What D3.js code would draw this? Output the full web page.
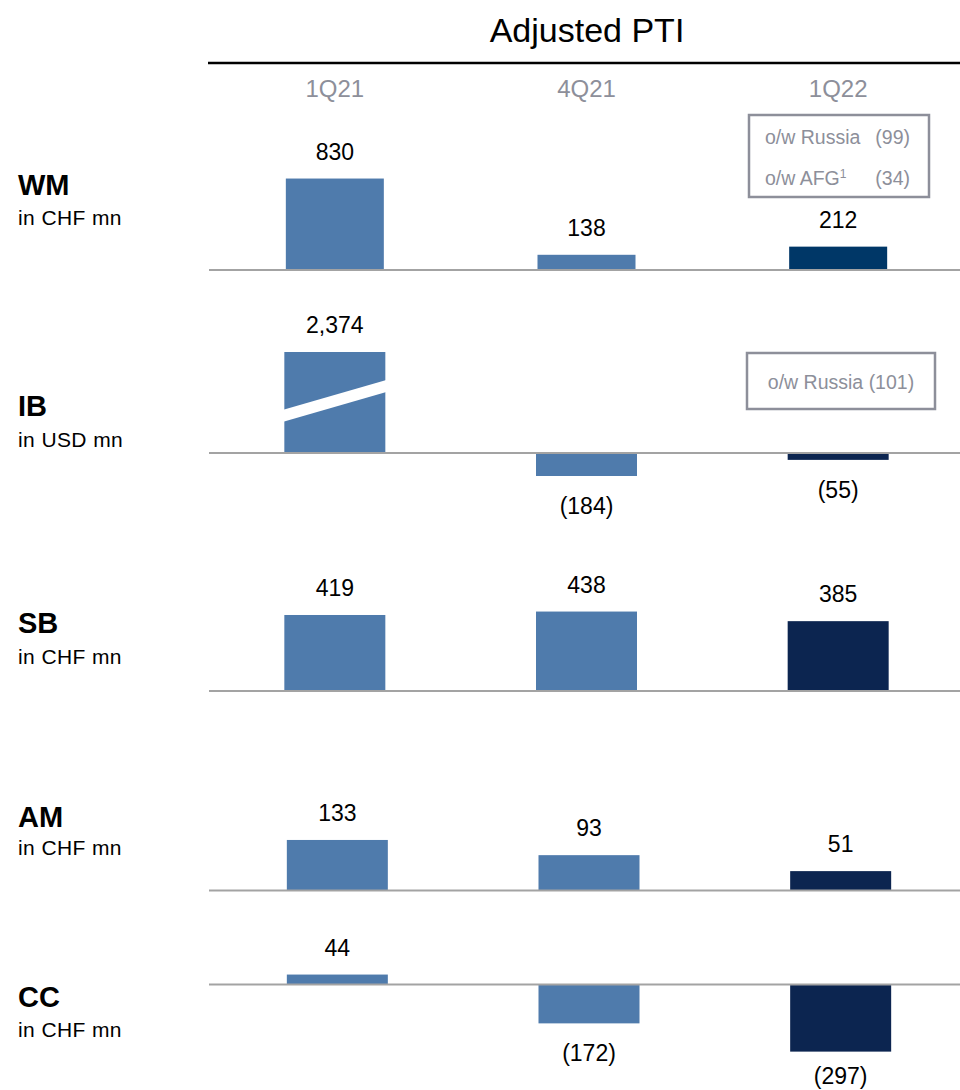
<!DOCTYPE html>
<html><head><meta charset="utf-8">
<script src="https://cdn.jsdelivr.net/npm/d3@7"></script>
<style>
body{margin:0;background:#fff;}
svg{display:block;font-family:"Liberation Sans",Arial,Helvetica,sans-serif;}
</style></head>
<body>
<script>
// ---- data ----
const title = "Adjusted PTI";
const periods = ["1Q21", "4Q21", "1Q22"];
const segments = ["WM", "IB", "SB", "AM", "CC"];
const units = ["in CHF mn", "in USD mn", "in CHF mn", "in CHF mn", "in CHF mn"];
const wmValues = [830, 138, 212];
const ibValues = [2374, -184, -55];
const sbValues = [419, 438, 385];
const amValues = [133, 93, 51];
const ccValues = [44, -172, -297];
const segmentValues = [wmValues, ibValues, sbValues, amValues, ccValues];
const wmNotes = [["o/w Russia", "(99)"], ["o/w AFG", "(34)"]];
const ibNotes = [["o/w Russia (101)", ""]];
const ibBreakValue = 808; // displayed height of broken bar

// ---- layout ----
const W = 960, H = 1090;
const panels = [
  {baseline: 270,   k: 0.1102, dx: 0,   bw: 98,  dark: "#003767", lab: 75,  unit: 45},
  {baseline: 453,   k: 0.125,  dx: 0,   bw: 101, dark: "#0c2550", lab: 37,  unit: 6},
  {baseline: 691,   k: 0.1814, dx: 0,   bw: 101, dark: "#0c2550", lab: 58,  unit: 27},
  {baseline: 890.5, k: 0.380,  dx: 2.5, bw: 101, dark: "#0c2550", lab: 64,  unit: 35.5},
  {baseline: 984.5, k: 0.226,  dx: 2.5, bw: 101, dark: "#0c2550", lab: -22, unit: -52.5}
];
const light = "#4f7bac";
const grey = "#8d8f9a";

const svg = d3.select("body").append("svg").attr("width", W).attr("height", H);

const x = d3.scaleBand().domain(periods).range([209, 964]).paddingInner(0.6).paddingOuter(0.3);

// title
svg.append("text").attr("x", 587).attr("y", 42).attr("text-anchor", "middle")
  .attr("font-size", 34).attr("fill", "#000").text(title);
svg.append("line").attr("x1", 208).attr("x2", 960).attr("y1", 63).attr("y2", 63)
  .attr("stroke", "#000").attr("stroke-width", 2.5);

// period headers
svg.selectAll("text.period").data(periods).join("text").attr("class", "period")
  .attr("x", d => x(d) + x.bandwidth() / 2).attr("y", 97).attr("text-anchor", "middle")
  .attr("font-size", 24).attr("fill", grey).text(d => d);

const fmt = v => v < 0 ? "(" + d3.format(",")(-v) + ")" : d3.format(",")(v);

segments.forEach((seg, si) => {
  const p = panels[si];
  const vals = segmentValues[si];
  const y = d3.scaleLinear().domain([0, 1000]).range([p.baseline, p.baseline - 1000 * p.k]);
  const g = svg.append("g");
  const disp = v => (si === 1 && v > ibBreakValue) ? ibBreakValue : v;

  // left labels
  g.append("text").attr("x", 18).attr("y", y(0) - p.lab)
    .attr("font-size", 29).attr("font-weight", "bold").attr("fill", "#000").text(seg);
  g.append("text").attr("x", 18).attr("y", y(0) - p.unit)
    .attr("font-size", 21).attr("letter-spacing", 0.4).attr("fill", "#000").text(units[si]);

  // bars
  g.selectAll("rect").data(vals).join("rect")
    .attr("x", (d, i) => x(periods[i]) + p.dx + (x.bandwidth() - p.bw) / 2)
    .attr("width", p.bw)
    .attr("y", d => Math.min(y(disp(d)), y(0)))
    .attr("height", d => Math.abs(y(disp(d)) - y(0)))
    .attr("fill", (d, i) => i === 2 ? p.dark : light);

  // broken bar stripe
  if (si === 1) {
    const bx = x(periods[0]) + p.dx + (x.bandwidth() - p.bw) / 2;
    const yl = y(disp(vals[0]) * 0.43), yr = y(disp(vals[0]) * 0.72);
    const t = 12;
    g.append("polygon")
      .attr("points", [[bx - 1, yl + 0.3], [bx + p.bw + 1, yr - 0.3], [bx + p.bw + 1, yr - 0.3 + t], [bx - 1, yl + 0.3 + t]].map(q => q.join(",")).join(" "))
      .attr("fill", "#fff");
  }

  // baseline
  g.append("line").attr("x1", 209).attr("x2", 960).attr("y1", y(0)).attr("y2", y(0))
    .attr("stroke", "#a3a3a3").attr("stroke-width", 2);

  // value labels
  g.selectAll("text.val").data(vals).join("text").attr("class", "val")
    .attr("x", (d, i) => x(periods[i]) + p.dx + x.bandwidth() / 2)
    .attr("y", d => d >= 0 ? y(disp(d)) - 19 : Math.min(y(d) + 38, H - 6))
    .attr("text-anchor", "middle").attr("font-size", 23).attr("fill", "#000")
    .text(fmt);
});

// annotation boxes
const wmBox = svg.append("g");
wmBox.append("rect").attr("x", 749).attr("y", 115).attr("width", 180).attr("height", 82)
  .attr("fill", "none").attr("stroke", grey).attr("stroke-width", 2.5);
wmNotes.forEach((n, i) => {
  const t = wmBox.append("text").attr("x", 765).attr("y", 144 + i * 41).attr("font-size", 19.5).attr("fill", grey);
  t.append("tspan").text(n[0]);
  if (i === 1) t.append("tspan").attr("font-size", 12).attr("dy", -7).text("1");
  wmBox.append("text").attr("x", 910).attr("y", 144 + i * 41).attr("text-anchor", "end")
    .attr("font-size", 19.5).attr("fill", grey).text(n[1]);
});
const ibBox = svg.append("g");
ibBox.append("rect").attr("x", 747).attr("y", 353).attr("width", 188).attr("height", 56)
  .attr("fill", "none").attr("stroke", grey).attr("stroke-width", 2.5);
ibNotes.forEach(n => {
  ibBox.append("text").attr("x", 841).attr("y", 389).attr("text-anchor", "middle")
    .attr("font-size", 19.5).attr("fill", grey).text(n[0]);
});
</script>
</body></html>
